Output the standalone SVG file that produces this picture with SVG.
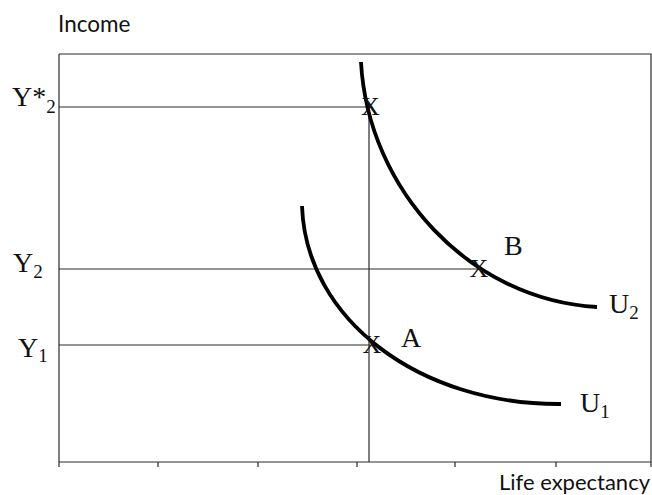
<svg xmlns="http://www.w3.org/2000/svg" width="652" height="495" viewBox="0 0 652 495">
<style>
.thin{stroke:#2a2a2a;stroke-width:1.2;fill:none}
.curve{stroke:#000;stroke-width:3.8;fill:none;stroke-linecap:butt}
.ser{font-family:"Liberation Serif","Times New Roman",serif;fill:#111}
.sans{font-family:Lato,"Open Sans",sans-serif;fill:#111}
.lbl{font-size:28px}
.sub{font-size:19px}
.xm{font-size:26px;text-anchor:middle}
</style>
<rect x="0" y="0" width="652" height="495" fill="#fff"/>
<g id="frame">
<path class="thin" d="M59,54 H651 V467 M59,54 V467 M59,462 H651"/>
<path class="thin" d="M158,462 V467 M258,462 V467 M357,462 V467 M455,462 V467 M556,462 V467"/>
</g>
<g id="connectors">
<path class="thin" d="M59,107 H369"/>
<path class="thin" d="M59,269 H480"/>
<path class="thin" d="M59,345 H370"/>
<path class="thin" d="M369,107 V462"/>
</g>
<g id="U2">
<path class="curve" d="M361,62 C368,190 470,300 597,307"/>
<text class="ser lbl" x="609" y="313">U<tspan class="sub" dy="6">2</tspan></text>
</g>
<g id="U1">
<path class="curve" d="M302,206 C306,320 420,405 561,404"/>
<text class="ser lbl" x="580" y="412">U<tspan class="sub" dy="6">1</tspan></text>
</g>
<g id="pointYstar">
<text class="ser xm" x="370.5" y="115">X</text>
</g>
<g id="pointB">
<text class="ser xm" x="479" y="277">X</text>
<text class="ser lbl" x="504" y="255">B</text>
</g>
<g id="pointA">
<text class="ser xm" x="372" y="353">X</text>
<text class="ser lbl" x="401" y="347">A</text>
</g>
<g id="yLabels">
<text class="ser lbl" x="12" y="106">Y*<tspan class="sub" dy="7">2</tspan></text>
<text class="ser lbl" x="13" y="272">Y<tspan class="sub" dy="6">2</tspan></text>
<text class="ser lbl" x="18" y="357">Y<tspan class="sub" dy="5">1</tspan></text>
</g>
<g id="axisTitles">
<text class="sans" x="58" y="32" font-size="22.5">Income</text>
<text class="sans" x="650" y="490" font-size="22" text-anchor="end">Life expectancy</text>
</g>
</svg>
